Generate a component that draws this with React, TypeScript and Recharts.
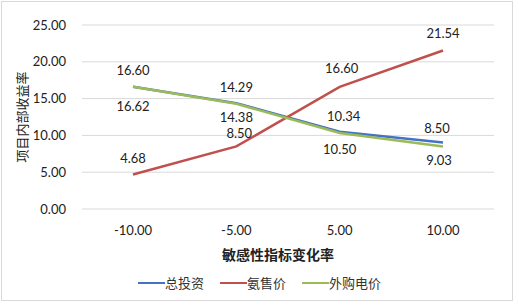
import React from 'react';
import { LineChart, Line, XAxis, YAxis, CartesianGrid, Legend, LabelList } from 'recharts';

const categories = ['-10.00', '-5.00', '5.00', '10.00'];
const totalInvestment = [16.62, 14.38, 10.5, 9.03];
const ammoniaPrice = [4.68, 8.5, 16.6, 21.54];
const powerPrice = [16.6, 14.29, 10.34, 8.5];
const yTicks = [0, 5, 10, 15, 20, 25];

const seriesNames = ['总投资', '氨售价', '外购电价'];
const colors = ['#4472C4', '#C0504D', '#9BBB59'];

// small label nudges (dx, dy) like the hand-placed Excel labels
const invNudge = [[0, 2], [0, -3], [0, 0], [-4, 0]];
const nh3Nudge = [[0, 0], [3, 4], [2, -2], [0, 0]];
const elecNudge = [[0, 0], [0, 0], [4, 0], [-6, -1]];

const data = categories.map((c, i) => ({
  cat: c,
  inv: totalInvestment[i],
  nh3: ammoniaPrice[i],
  elec: powerPrice[i],
}));

const numFont = 'Lato, "Noto Sans", sans-serif';
const cjkFont = '"Noto Sans CJK SC", sans-serif';

const fmt = (v: any) => Number(v).toFixed(2);

const makeLabel = (below: boolean, nudge: number[][]) => (props: any) => {
  const { x, y, value, index } = props;
  const [dx, dy] = nudge[index] || [0, 0];
  const cy = below ? y + 17 : y - 17;
  return (
    <text
      x={x + dx}
      y={cy + dy}
      textAnchor="middle"
      dominantBaseline="central"
      fontFamily={numFont}
      fontSize={13}
      fill="#222"
    >
      {fmt(value)}
    </text>
  );
};

const LegendBox = () => (
  <div style={{ display: 'flex', justifyContent: 'center', alignItems: 'center', fontFamily: cjkFont, fontSize: 13, color: '#333' }}>
    {seriesNames.map((n, i) => (
      <div key={n} style={{ display: 'flex', alignItems: 'center', marginRight: i < 2 ? 16 : 0 }}>
        <span style={{ display: 'inline-block', width: 27, height: 2, background: colors[i] }} />
        <span>{n}</span>
      </div>
    ))}
  </div>
);

export default function App() {
  return (
    <div style={{ position: 'relative', width: 519, height: 305, background: '#fff' }}>
      <style>{'body{margin:0}'}</style>
      <div style={{ position: 'absolute', left: 1, top: 1, width: 510, height: 298, border: '1px solid #d9d9d9' }} />
      <LineChart width={519} height={305} data={data} margin={{ top: 25, right: 25, left: 0, bottom: 50 }}>
        <CartesianGrid vertical={false} stroke="#d9d9d9" />
        <XAxis
          dataKey="cat"
          height={46}
          padding={{ left: 51, right: 51 }}
          axisLine={false}
          tickLine={false}
          tickSize={0}
          tickMargin={17}
          tick={{ fontFamily: numFont, fontSize: 13, fill: '#222' }}
          label={{
            content: () => (
              <text x={278} y={260} textAnchor="middle" fontFamily={cjkFont} fontSize={14} fontWeight="bold" fill="#222">
                敏感性指标变化率
              </text>
            ),
          }}
        />
        <YAxis
          width={82}
          domain={[0, 25]}
          ticks={yTicks}
          tickFormatter={fmt}
          axisLine={false}
          tickLine={false}
          tickSize={0}
          tickMargin={16}
          tick={{ fontFamily: numFont, fontSize: 13, fill: '#222' }}
          label={{
            content: () => (
              <text x={21} y={117} transform="rotate(-90 21 117)" textAnchor="middle" dominantBaseline="central" fontFamily={cjkFont} fontSize={13} fill="#222">
                项目内部收益率
              </text>
            ),
          }}
        />
        <Legend
          layout="horizontal"
          verticalAlign="middle"
          align="center"
          content={() => <LegendBox />}
          wrapperStyle={{ top: 273, left: 0, width: 519 }}
        />
        <Line dataKey="inv" name={seriesNames[0]} stroke={colors[0]} strokeWidth={2.5} dot={false} isAnimationActive={false}>
          <LabelList dataKey="inv" content={makeLabel(true, invNudge)} />
        </Line>
        <Line dataKey="nh3" name={seriesNames[1]} stroke={colors[1]} strokeWidth={2.5} dot={false} isAnimationActive={false}>
          <LabelList dataKey="nh3" content={makeLabel(false, nh3Nudge)} />
        </Line>
        <Line dataKey="elec" name={seriesNames[2]} stroke={colors[2]} strokeWidth={2.5} dot={false} isAnimationActive={false}>
          <LabelList dataKey="elec" content={makeLabel(false, elecNudge)} />
        </Line>
      </LineChart>
    </div>
  );
}
